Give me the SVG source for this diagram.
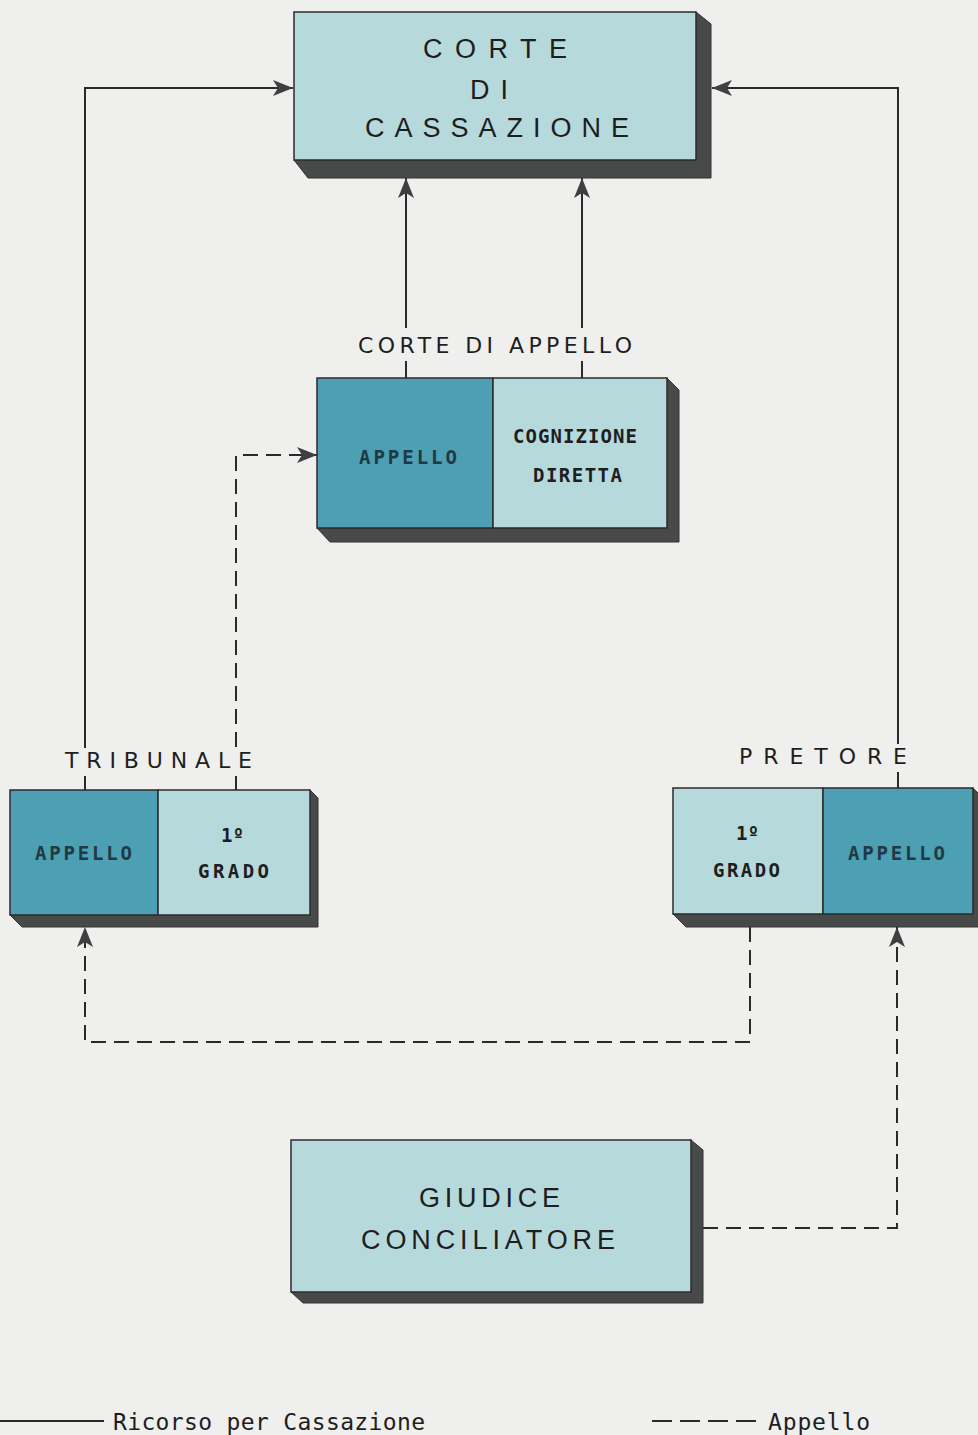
<svg xmlns="http://www.w3.org/2000/svg" width="978" height="1435" viewBox="0 0 978 1435">
<style>
.bg{fill:#efefed}
.light{fill:#b6d9dc;stroke:#2b2b2b;stroke-width:1.5}
.dark{fill:#4d9fb3;stroke:#2b2b2b;stroke-width:1.5}
.shadow{fill:#484a4a;stroke:#333;stroke-width:1}
.big{font-family:"Liberation Sans","DejaVu Sans",sans-serif;font-size:27px;fill:#1e1e1e}
.lbl{font-family:"DejaVu Sans","Liberation Sans",sans-serif;font-size:22px;fill:#1e1e1e}
.in{font-family:"DejaVu Sans Mono","Liberation Mono",monospace;font-size:19px;font-weight:bold;fill:#1e1e1e}
.inD{font-family:"DejaVu Sans Mono","Liberation Mono",monospace;font-size:19px;font-weight:bold;fill:#1f3a44}
.leg{font-family:"DejaVu Sans Mono","Liberation Mono",monospace;font-size:23px;fill:#1e1e1e}
.solid{fill:none;stroke:#2a2a2a;stroke-width:2}
.dash{fill:none;stroke:#2a2a2a;stroke-width:2;stroke-dasharray:15 8}
</style>
<defs>
<marker id="arr" viewBox="0 0 20 18" refX="20" refY="9" markerWidth="20" markerHeight="18" markerUnits="userSpaceOnUse" orient="auto">
<path d="M0,1 L20,9 L0,17 L5,9 Z" fill="#3e4040"/>
</marker>
</defs>
<rect class="bg" x="0" y="0" width="978" height="1435"/>

<g id="connectors">
<path class="solid" d="M85,790 V776"/>
<path class="solid" d="M85,748 V88 H293" marker-end="url(#arr)"/>
<path class="solid" d="M898,788 V772"/>
<path class="solid" d="M898,744 V88 H712" marker-end="url(#arr)"/>
<path class="solid" d="M406,378 V361"/>
<path class="solid" d="M406,328 V178" marker-end="url(#arr)"/>
<path class="solid" d="M582,378 V361"/>
<path class="solid" d="M582,328 V178" marker-end="url(#arr)"/>
<path class="solid" d="M236,790 V776"/>
<path class="dash" d="M236,747 V455 H317" marker-end="url(#arr)"/>
<path class="dash" d="M750,927 V1042 H85 V927" marker-end="url(#arr)"/>
<path class="dash" d="M703,1228 H897 V927" marker-end="url(#arr)"/>
</g>

<g id="corte-cassazione">
<polygon class="shadow" points="696,12 711,24 711,178 308,178 294,160"/>
<rect class="light" x="294" y="12" width="402" height="148"/>
<text class="big" x="423" y="58" textLength="144" lengthAdjust="spacing">CORTE</text>
<text class="big" x="470" y="99" textLength="38" lengthAdjust="spacing">DI</text>
<text class="big" x="365" y="137" textLength="264" lengthAdjust="spacing">CASSAZIONE</text>
</g>

<g id="corte-appello">
<text class="lbl" x="358" y="353" textLength="274" lengthAdjust="spacing">CORTE DI APPELLO</text>
<polygon class="shadow" points="667,378 679,390 679,542 330,542 317,528"/>
<rect class="dark" x="317" y="378" width="176" height="150"/>
<rect class="light" x="493" y="378" width="174" height="150"/>
<text class="inD" x="359" y="464" textLength="98" lengthAdjust="spacing">APPELLO</text>
<text class="in" x="513" y="443" textLength="124" lengthAdjust="spacing">COGNIZIONE</text>
<text class="in" x="533" y="482" textLength="89" lengthAdjust="spacing">DIRETTA</text>
</g>

<g id="tribunale">
<text class="lbl" x="65" y="768" textLength="187" lengthAdjust="spacing">TRIBUNALE</text>
<polygon class="shadow" points="310,790 318,798 318,927 22,927 10,915"/>
<rect class="dark" x="10" y="790" width="148" height="125"/>
<rect class="light" x="158" y="790" width="152" height="125"/>
<text class="inD" x="35" y="860" textLength="97" lengthAdjust="spacing">APPELLO</text>
<text class="in" x="221" y="842" font-size="21">1º</text>
<text class="in" x="198" y="878" textLength="71" lengthAdjust="spacing">GRADO</text>
</g>

<g id="pretore">
<text class="lbl" x="739" y="764" textLength="168" lengthAdjust="spacing">PRETORE</text>
<polygon class="shadow" points="973,788 980,795 980,927 686,927 673,914"/>
<rect class="light" x="673" y="788" width="150" height="126"/>
<rect class="dark" x="823" y="788" width="150" height="126"/>
<text class="in" x="736" y="840" font-size="21">1º</text>
<text class="in" x="713" y="877" textLength="67" lengthAdjust="spacing">GRADO</text>
<text class="inD" x="848" y="860" textLength="97" lengthAdjust="spacing">APPELLO</text>
</g>

<g id="giudice-conciliatore">
<polygon class="shadow" points="691,1140 703,1150 703,1303 303,1303 291,1292"/>
<rect class="light" x="291" y="1140" width="400" height="152"/>
<text class="big" x="419" y="1207" textLength="141" lengthAdjust="spacing">GIUDICE</text>
<text class="big" x="361" y="1249" textLength="254" lengthAdjust="spacing">CONCILIATORE</text>
</g>

<g id="legend">
<line class="solid" x1="0" y1="1421" x2="104" y2="1421"/>
<text class="leg" x="113" y="1430" textLength="312" lengthAdjust="spacing">Ricorso per Cassazione</text>
<line x1="652" y1="1421" x2="756" y2="1421" stroke="#2a2a2a" stroke-width="2" stroke-dasharray="20 8"/>
<text class="leg" x="768" y="1430" textLength="102" lengthAdjust="spacing">Appello</text>
</g>
</svg>
